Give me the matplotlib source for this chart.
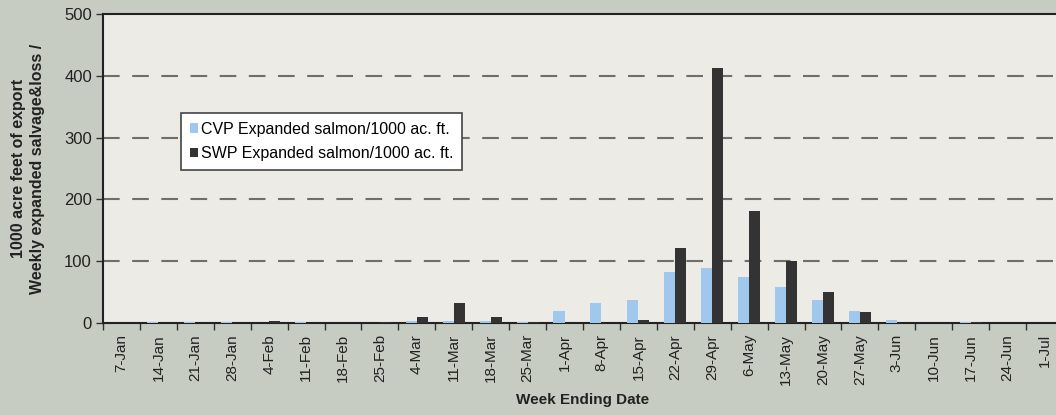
import numpy as np
import matplotlib
matplotlib.use('Agg')
from matplotlib import pyplot as plt
from matplotlib.ticker import FixedLocator

plt.rcParams['font.family'] = ['Liberation Sans', 'DejaVu Sans']

weeks = ['7-Jan', '14-Jan', '21-Jan', '28-Jan', '4-Feb', '11-Feb', '18-Feb',
         '25-Feb', '4-Mar', '11-Mar', '18-Mar', '25-Mar', '1-Apr', '8-Apr',
         '15-Apr', '22-Apr', '29-Apr', '6-May', '13-May', '20-May', '27-May',
         '3-Jun', '10-Jun', '17-Jun', '24-Jun', '1-Jul']
cvp = [0, 2, 1, 1, 0, 1, 0, 0, 2.5, 4, 4, 1, 20, 32,
       38, 82, 88.5, 74, 58, 38, 19, 4.5, 0, 1, 0, 0]
swp = [0, 0, 0, 0, 3, 0, 0, 1, 9, 33, 9, 1, 0, 0,
       5.5, 122, 412, 181, 101, 50, 17.5, 0, 0, 1.5, 0, 0]
yticks = [0, 100, 200, 300, 400, 500]

cvp_color = '#a0c8ec'
swp_color = '#333333'
fig_bg = '#c6ccc1'
ax_bg = '#edebe5'

fig = plt.figure(figsize=(10.56, 4.15), dpi=100, facecolor=fig_bg)
# plot area runs slightly past the right edge of the picture
ax = fig.add_axes([103 / 1056, 1 - 323 / 415, 960 / 1056, 309 / 415])
ax.set_facecolor(ax_bg)

x = np.arange(len(weeks))
w = 0.3
ax.bar(x - w / 2, cvp, width=w, color=cvp_color, zorder=3,
       label='CVP Expanded salmon/1000 ac. ft.')
ax.bar(x + w / 2, swp, width=w, color=swp_color, zorder=3,
       label='SWP Expanded salmon/1000 ac. ft.')

ax.set_xlim(-0.5, len(weeks) - 0.5)
ax.set_ylim(0, 500)
ax.set_yticks(yticks)
ax.set_xticks(x)
ax.set_xticklabels(weeks, rotation=90, fontsize=11, color='#222222')
ax.xaxis.set_minor_locator(FixedLocator(np.arange(len(weeks) + 1) - 0.5))
ax.tick_params(axis='x', which='major', length=0, pad=8)
ax.tick_params(axis='x', which='minor', length=5, width=1, color='#333333')
ax.tick_params(axis='y', length=5, width=1, labelsize=12, color='#333333',
               labelcolor='#222222', pad=3)

for v in yticks[1:-1]:
    ax.axhline(v, color='#6e6e6e', linewidth=1.5, dashes=(8, 6), zorder=1)

for side in ['left', 'top', 'bottom']:
    ax.spines[side].set_color('#222222')
    ax.spines[side].set_linewidth(1.5)
ax.spines['right'].set_visible(False)

ax.set_ylabel('1000 acre feet of export\nWeekly expanded salvage&loss /',
              fontsize=11.5, fontweight='bold', color='#222222',
              linespacing=1.3, labelpad=14)
ax.set_xlabel('Week Ending Date', fontsize=11, fontweight='bold',
              color='#222222', labelpad=6)

leg = ax.legend(loc='upper left', bbox_to_anchor=(0.081, 0.68), fontsize=11.5,
                frameon=True, fancybox=False, framealpha=1,
                handlelength=0.55, handleheight=0.55, handletextpad=0.15,
                borderpad=0.55, labelspacing=0.6, borderaxespad=0)
leg.get_frame().set_edgecolor('#444444')
leg.get_frame().set_linewidth(1.2)
leg.get_frame().set_facecolor('white')

fig.savefig('out.png', dpi=100, facecolor=fig_bg)
